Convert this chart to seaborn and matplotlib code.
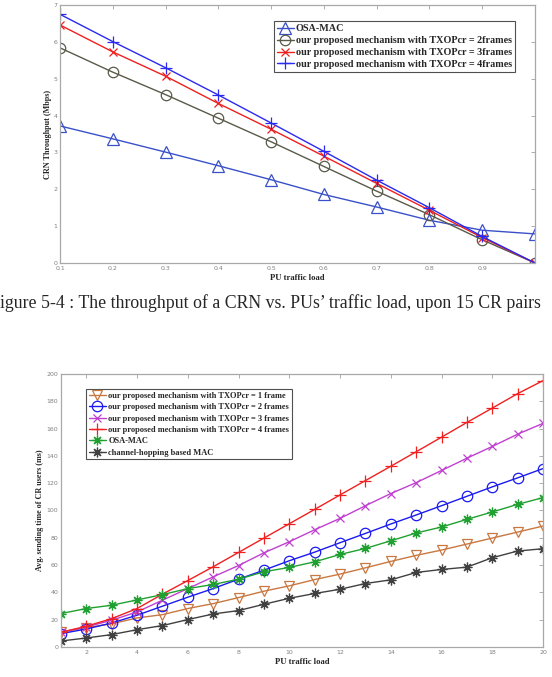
import numpy as np
import pandas as pd
import matplotlib.pyplot as plt
import seaborn as sns

# ---- top chart: CRN throughput vs PU traffic load ----
load_top = [0.1, 0.2, 0.3, 0.4, 0.5, 0.6, 0.7, 0.8, 0.9, 1.0]
osa_top = [3.72, 3.37, 3.01, 2.64, 2.26, 1.86, 1.52, 1.16, 0.89, 0.79]
txop2_top = [5.84, 5.18, 4.57, 3.93, 3.29, 2.62, 1.95, 1.31, 0.63, 0.0]
txop3_top = [6.46, 5.73, 5.07, 4.33, 3.63, 2.90, 2.16, 1.43, 0.69, 0.0]
txop4_top = [6.75, 6.01, 5.30, 4.56, 3.80, 3.03, 2.25, 1.50, 0.72, 0.0]
top_xticklabels = ['0.1', '0.2', '0.3', '0.4', '0.5', '0.6', '0.7', '0.8', '0.9', '']

# ---- bottom chart: avg sending time vs PU traffic load ----
load_bot = list(range(1, 21))
txop1_bot = [10.8, 14.2, 17.0, 21.3, 23.7, 28.2, 31.8, 36.2, 40.9, 44.8,
             49.4, 53.4, 58.0, 62.7, 67.1, 71.0, 75.4, 79.8, 84.2, 88.6]
txop2_bot = [9.8, 13.2, 17.6, 23.3, 29.9, 36.5, 42.8, 49.7, 56.3, 63.2,
             69.5, 76.4, 83.2, 90.1, 96.7, 103.5, 110.4, 117.3, 123.9, 130.7]
txop3_bot = [10.8, 14.7, 19.6, 25.7, 34.3, 42.8, 51.4, 59.7, 69.0, 77.1,
             85.9, 94.2, 103.5, 112.4, 120.4, 129.3, 138.3, 146.9, 155.9, 163.8]
txop4_bot = [10.8, 15.2, 20.8, 28.2, 38.7, 48.7, 58.8, 69.3, 79.8, 90.3,
             100.8, 111.4, 121.9, 132.4, 143.0, 153.7, 164.5, 175.0, 185.6, 195.1]
osa_bot = [24.5, 28.2, 30.6, 34.5, 38.4, 42.8, 45.8, 49.7, 55.1, 58.3,
           62.4, 67.8, 72.2, 77.8, 83.5, 87.9, 93.5, 98.9, 104.5, 109.4]
hop_bot = [4.4, 6.6, 9.1, 12.7, 15.7, 20.1, 24.2, 26.7, 31.3, 35.7,
           39.2, 42.3, 46.5, 49.2, 54.6, 56.8, 58.5, 65.4, 70.3, 72.0]

# the scan cuts the caption's first letter off at the left edge
caption = 'igure 5-4 : The throughput of a CRN vs. PUs\u2019 traffic load, upon 15 CR pairs'

sns.set_style('white')
plt.rcParams['font.family'] = ['Liberation Serif', 'DejaVu Serif']

ASTER = (8, 2, 0)


def draw(ax, x, y, color, marker, label, ms=7):
    sns.lineplot(x=x, y=y, ax=ax, color=color, marker=marker, markersize=ms,
                 markerfacecolor='none', markeredgecolor=color, markeredgewidth=0.9,
                 linewidth=1.0, label=label)


def style_axes(ax, xlabel, ylabel, ylab_x):
    for s in ax.spines.values():
        s.set_color('#a8a8a8')
        s.set_linewidth(0.9)
    ax.tick_params(direction='in', length=3, width=0.6, colors='#a0a0a0',
                   labelcolor='#808080', labelsize=4.5, top=True, right=True,
                   pad=2)
    for lab in ax.get_xticklabels() + ax.get_yticklabels():
        lab.set_family('DejaVu Sans')
    ax.set_xlabel(xlabel, fontsize=6.2, fontweight='bold', labelpad=2.5)
    ax.set_ylabel(ylabel, fontsize=5.9, fontweight='bold')
    ax.yaxis.set_label_coords(ylab_x, 0.5)


fig = plt.figure(figsize=(5.52, 6.77), dpi=100)

# top chart
ax1 = fig.add_axes([0.1087, 0.6115, 0.8605, 0.381])
draw(ax1, load_top, osa_top, '#3a50c8', '^', 'OSA-MAC', ms=8)
draw(ax1, load_top, txop2_top, '#5a5a4a', 'o', 'our proposed mechanism with TXOPcr = 2frames', ms=7.5)
draw(ax1, load_top, txop3_top, '#ee2020', 'x', 'our proposed mechanism with TXOPcr = 3frames', ms=6)
draw(ax1, load_top, txop4_top, '#2a2af0', '+', 'our proposed mechanism with TXOPcr = 4frames', ms=9)
ax1.set_xlim(0.1, 1.0)
ax1.set_ylim(0, 7)
ax1.set_xticks(load_top)
ax1.set_xticklabels(top_xticklabels)
ax1.set_yticks(range(0, 8))
style_axes(ax1, 'PU traffic load', 'CRN Throughput (Mbps)', -0.017)
leg1 = ax1.legend(loc='upper right', bbox_to_anchor=(0.958, 0.938), borderaxespad=0,
                  fancybox=False, edgecolor='#505050', framealpha=1,
                  prop={'family': 'Liberation Serif', 'weight': 'bold', 'size': 7.3},
                  handlelength=1.7, handletextpad=0.2, labelspacing=0.28,
                  borderpad=0.3)
leg1.get_frame().set_linewidth(0.8)

# caption
fig.text(0.0, 0.552, caption, fontsize=12.8, family='Liberation Serif',
         ha='left', va='center')

# bottom chart
ax2 = fig.add_axes([0.1105, 0.0443, 0.8732, 0.4033])
draw(ax2, load_bot, txop1_bot, '#c87840', 'v', 'our proposed mechanism with TXOPcr = 1 frame', ms=7.5)
draw(ax2, load_bot, txop2_bot, '#1a1af0', 'o', 'our proposed mechanism with TXOPcr = 2 frames', ms=7.5)
draw(ax2, load_bot, txop3_bot, '#c040d0', 'x', 'our proposed mechanism with TXOPcr = 3 frames', ms=5.5)
draw(ax2, load_bot, txop4_bot, '#f02020', '+', 'our proposed mechanism with TXOPcr = 4 frames', ms=8)
draw(ax2, load_bot, osa_bot, '#20a030', ASTER, 'OSA-MAC', ms=7)
draw(ax2, load_bot, hop_bot, '#404040', ASTER, 'channel-hopping based MAC', ms=7)
ax2.set_xlim(1, 20)
ax2.set_ylim(0, 200)
ax2.set_xticks(range(2, 21, 2))
ax2.set_yticks(range(0, 201, 20))
style_axes(ax2, 'PU traffic load', 'Avg. sending time of CR users (ms)', -0.035)
leg2 = ax2.legend(loc='upper left', bbox_to_anchor=(0.052, 0.945), borderaxespad=0,
                  fancybox=False, edgecolor='#505050', framealpha=1,
                  prop={'family': 'Liberation Serif', 'weight': 'bold', 'size': 6.0},
                  handlelength=2.0, handletextpad=0.3, labelspacing=0.4,
                  borderpad=0.35)
leg2.get_frame().set_linewidth(0.8)

fig.savefig('out.png', dpi=100)
